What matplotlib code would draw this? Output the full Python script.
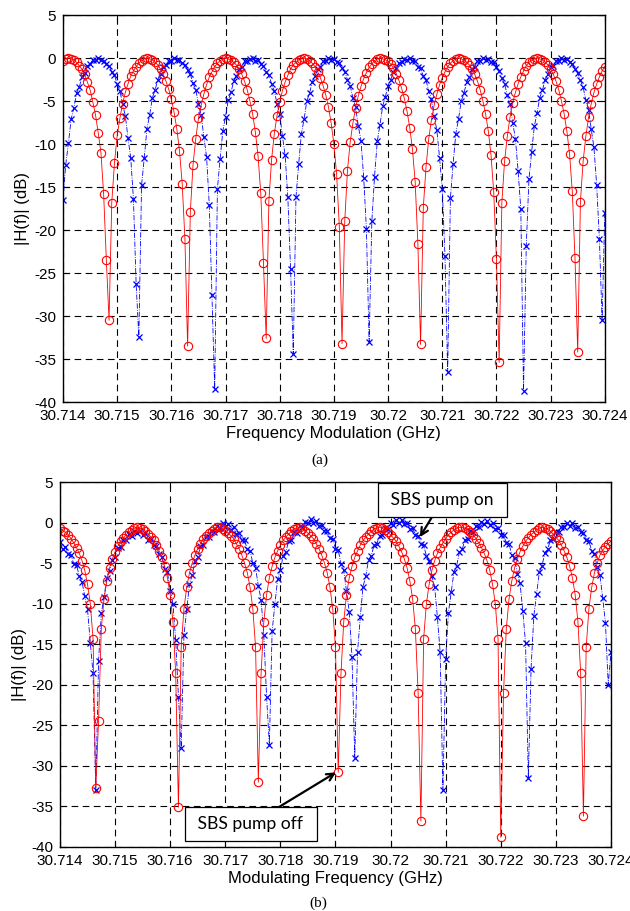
import numpy as np
import matplotlib
matplotlib.use('Agg')
import matplotlib.pyplot as plt

plt.rcParams['font.family'] = ['Liberation Sans', 'DejaVu Sans']
plt.rcParams['axes.unicode_minus'] = False

# sweep 30.714 .. 30.724 GHz, 201 points (50 kHz step)
f_start, f_stop, n_pts = 30.714, 30.724, 201

xticks = [30.714, 30.715, 30.716, 30.717, 30.718, 30.719, 30.720, 30.721, 30.722, 30.723, 30.724]
xtick_labels = ['30.714', '30.715', '30.716', '30.717', '30.718', '30.719', '30.72',
                '30.721', '30.722', '30.723', '30.724']
yticks = [5, 0, -5, -10, -15, -20, -25, -30, -35, -40]

# (a) |H(f)| in dB, red = circles, blue = crosses
red_a = [
    -0.3, -0.1, 0.0, -0.1, -0.2, -0.5, -0.9, -1.3, -1.9, -2.8,
    -3.7, -5.1, -6.6, -8.7, -11.0, -15.8, -23.5, -30.5, -16.8, -12.2,
    -9.0, -7.0, -5.3, -4.0, -3.0, -2.1, -1.5, -1.0, -0.6, -0.3,
    -0.1, 0.0, -0.1, -0.2, -0.5, -0.8, -1.3, -1.9, -2.7, -3.6,
    -4.8, -6.3, -8.2, -10.8, -14.6, -21.0, -33.5, -17.9, -12.4, -9.4,
    -7.0, -5.5, -4.2, -3.1, -2.2, -1.6, -1.0, -0.6, -0.3, -0.1,
    0.0, -0.1, -0.2, -0.5, -0.8, -1.3, -1.9, -2.7, -3.7, -5.0,
    -6.5, -8.6, -11.4, -15.7, -23.8, -32.6, -16.6, -11.8, -8.8, -6.7,
    -5.1, -3.8, -2.8, -2.0, -1.3, -0.8, -0.5, -0.2, -0.1, 0.0,
    -0.1, -0.3, -0.6, -1.0, -1.6, -2.3, -3.2, -4.3, -5.7, -7.6,
    -10.0, -13.5, -19.6, -33.2, -19.0, -13.1, -9.8, -7.6, -5.8, -4.4,
    -3.3, -2.4, -1.7, -1.1, -0.7, -0.3, -0.1, 0.0, -0.1, -0.2,
    -0.4, -0.7, -1.2, -1.8, -2.6, -3.5, -4.7, -6.2, -8.1, -10.6,
    -14.4, -21.6, -33.3, -17.4, -12.7, -9.4, -7.2, -5.5, -4.2, -3.1,
    -2.3, -1.6, -1.0, -0.6, -0.3, -0.1, 0.0, -0.1, -0.2, -0.5,
    -0.8, -1.3, -1.9, -2.7, -3.7, -5.0, -6.5, -8.5, -11.3, -15.6,
    -23.4, -35.4, -16.8, -12.0, -9.1, -6.9, -5.2, -4.0, -3.0, -2.2,
    -1.5, -0.9, -0.5, -0.3, -0.1, 0.0, -0.1, -0.2, -0.5, -0.8,
    -1.3, -1.9, -2.7, -3.7, -5.0, -6.5, -8.5, -11.2, -15.5, -23.3,
    -34.2, -16.7, -12.0, -9.1, -6.9, -5.3, -4.0, -3.0, -2.2, -1.5,
    -1.0]

blue_a = [
    -16.5, -12.4, -9.9, -7.1, -5.8, -4.1, -3.4, -2.2, -1.7, -0.9,
    -0.7, -0.2, -0.2, 0.0, -0.2, -0.3, -0.7, -0.9, -1.6, -2.0,
    -3.0, -3.8, -5.4, -6.7, -9.3, -11.6, -16.4, -26.3, -32.4, -14.8,
    -11.6, -8.2, -6.6, -4.6, -3.7, -2.5, -1.9, -1.1, -0.8, -0.3,
    -0.3, 0.0, -0.2, -0.2, -0.6, -0.8, -1.4, -1.9, -2.9, -3.7,
    -5.3, -6.6, -9.2, -11.5, -17.1, -27.6, -38.5, -15.2, -11.7, -8.5,
    -6.8, -4.9, -4.0, -2.7, -2.1, -1.3, -1.0, -0.4, -0.4, -0.1,
    0.0, -0.3, -0.2, -0.7, -0.9, -1.6, -2.0, -3.0, -3.8, -5.3,
    -6.5, -9.1, -11.3, -16.2, -24.5, -34.4, -16.2, -12.3, -8.8, -7.1,
    -5.0, -4.1, -2.8, -2.1, -1.3, -1.0, -0.4, -0.4, 0.0, -0.2,
    -0.1, -0.5, -0.6, -1.2, -1.6, -2.5, -3.2, -4.6, -5.7, -7.9,
    -9.6, -13.9, -19.9, -33.0, -19.0, -13.8, -9.7, -7.8, -5.6, -4.5,
    -3.2, -2.5, -1.6, -1.2, -0.6, -0.5, -0.1, -0.2, 0.0, -0.4,
    -0.4, -1.0, -1.2, -2.1, -2.6, -3.8, -4.8, -6.7, -8.4, -11.6,
    -15.2, -23.0, -36.5, -16.3, -12.3, -8.8, -7.1, -5.0, -4.1, -2.8,
    -2.2, -1.3, -1.0, -0.4, -0.4, 0.0, -0.2, -0.1, -0.5, -0.5,
    -1.1, -1.5, -2.3, -3.0, -4.3, -5.4, -7.5, -9.4, -13.1, -17.6,
    -38.7, -21.9, -14.1, -10.9, -7.9, -6.4, -4.6, -3.7, -2.5, -1.9,
    -1.1, -0.9, -0.3, -0.3, 0.0, -0.2, -0.1, -0.5, -0.7, -1.3,
    -1.7, -2.6, -3.4, -4.9, -6.0, -8.3, -10.4, -14.8, -21.0, -30.5,
    -18.0]

# (b) pump off (red) / pump on (blue)
red_b = [
    -0.7, -1.0, -1.2, -1.5, -2.0, -2.5, -3.1, -3.8, -4.7, -5.9,
    -7.6, -10.0, -14.3, -32.7, -24.5, -13.1, -9.4, -7.2, -5.6, -4.5,
    -3.6, -2.9, -2.3, -1.9, -1.5, -1.2, -0.9, -0.7, -0.6, -0.7,
    -0.8, -1.1, -1.4, -1.8, -2.2, -2.8, -3.5, -4.3, -5.4, -6.8,
    -8.9, -12.2, -18.6, -35.1, -15.4, -10.6, -8.0, -6.2, -5.0, -4.0,
    -3.2, -2.6, -2.0, -1.6, -1.3, -1.0, -0.8, -0.6, -0.6, -0.8,
    -1.0, -1.3, -1.6, -2.0, -2.6, -3.2, -4.0, -5.0, -6.2, -8.0,
    -10.6, -15.4, -32.0, -18.6, -12.2, -8.9, -6.8, -5.4, -4.3, -3.5,
    -2.8, -2.2, -1.8, -1.4, -1.1, -0.8, -0.7, -0.6, -0.8, -1.0,
    -1.3, -1.6, -2.0, -2.6, -3.2, -4.0, -5.0, -6.2, -8.0, -10.6,
    -15.4, -30.8, -18.6, -12.2, -8.9, -6.8, -5.4, -4.3, -3.5, -2.8,
    -2.2, -1.8, -1.4, -1.1, -0.8, -0.7, -0.6, -0.7, -0.9, -1.2,
    -1.5, -1.9, -2.3, -2.9, -3.6, -4.5, -5.6, -7.2, -9.4, -13.1,
    -21.0, -36.8, -14.3, -10.0, -7.6, -5.9, -4.7, -3.8, -3.1, -2.5,
    -2.0, -1.5, -1.2, -0.9, -0.7, -0.6, -0.6, -0.7, -0.9, -1.2,
    -1.5, -2.0, -2.5, -3.1, -3.8, -4.7, -5.9, -7.6, -10.0, -14.3,
    -38.8, -21.0, -13.1, -9.4, -7.2, -5.6, -4.5, -3.6, -2.9, -2.3,
    -1.9, -1.5, -1.2, -0.9, -0.7, -0.6, -0.7, -0.8, -1.1, -1.4,
    -1.8, -2.2, -2.8, -3.5, -4.3, -5.4, -6.8, -8.9, -12.2, -18.6,
    -36.2, -15.4, -10.6, -8.0, -6.2, -5.0, -4.0, -3.4, -3.0, -2.6,
    -2.3]

blue_b = [
    -2.4, -3.2, -3.0, -3.9, -4.0, -5.1, -5.2, -6.6, -7.3, -9.1,
    -10.7, -14.8, -18.6, -33.0, -17.1, -11.2, -9.2, -6.8, -6.0, -4.6,
    -4.2, -3.1, -3.0, -2.1, -2.2, -1.4, -1.6, -1.0, -1.3, -1.0,
    -1.5, -1.3, -2.1, -2.0, -2.8, -2.9, -3.9, -4.2, -5.7, -6.1,
    -8.4, -10.0, -14.5, -21.5, -27.8, -13.9, -10.7, -7.6, -6.5, -4.7,
    -4.3, -2.9, -2.8, -1.8, -1.8, -1.0, -1.2, -0.4, -0.7, -0.1,
    -0.5, -0.2, -0.9, -0.6, -1.4, -1.3, -2.2, -2.2, -3.3, -3.5,
    -5.0, -5.6, -7.8, -9.5, -13.9, -21.5, -27.4, -13.4, -10.1, -7.0,
    -5.9, -4.1, -3.6, -2.3, -2.2, -1.2, -1.3, -0.4, -0.6, 0.1,
    -0.1, 0.4, 0.0, 0.2, -0.4, -0.3, -1.0, -1.0, -1.9, -2.0,
    -3.2, -3.4, -5.1, -5.9, -8.4, -11.0, -16.6, -29.0, -16.0, -11.7,
    -7.9, -6.6, -4.6, -4.1, -2.8, -2.6, -1.6, -1.5, -0.7, -0.8,
    -0.1, -0.3, 0.3, 0.0, 0.3, -0.2, -0.1, -0.8, -0.7, -1.5,
    -1.6, -2.6, -2.8, -4.1, -4.7, -6.6, -7.9, -11.7, -16.0, -33.0,
    -16.8, -11.1, -8.6, -6.1, -5.3, -3.6, -3.3, -2.1, -2.0, -1.1,
    -1.2, -0.4, -0.6, 0.1, -0.2, 0.2, -0.3, -0.1, -0.8, -0.7,
    -1.5, -1.5, -2.5, -2.6, -4.0, -4.4, -6.3, -7.5, -10.9, -14.9,
    -31.5, -18.0, -11.5, -8.8, -6.1, -5.3, -3.7, -3.3, -2.2, -2.0,
    -1.2, -1.2, -0.5, -0.6, -0.1, -0.4, -0.1, -0.7, -0.6, -1.2,
    -1.3, -2.2, -2.3, -3.5, -3.9, -5.5, -6.5, -9.3, -12.4, -20.0,
    -16.0]

freq = np.linspace(f_start, f_stop, n_pts)


def draw_panel(ax, red, blue, xlabel):
    ax.plot(freq, blue, color='b', linestyle='-.', linewidth=0.6,
            marker='x', markersize=4.5, markeredgewidth=0.9)
    ax.plot(freq, red, color='r', linestyle='-', linewidth=0.6,
            marker='o', markersize=6, markerfacecolor='none', markeredgewidth=0.8)
    ax.set_xlim(f_start, f_stop)
    ax.set_ylim(-40, 5)
    ax.set_xticks(xticks)
    ax.set_xticklabels(xtick_labels)
    ax.set_yticks(yticks)
    ax.tick_params(direction='in', top=True, right=True, length=4, labelsize=11, pad=5)
    ax.grid(True, color='k', linestyle=(0, (6, 4)), linewidth=0.8)
    ax.set_axisbelow(True)
    for s in ax.spines.values():
        s.set_linewidth(1.0)
    ax.set_xlabel(xlabel, fontsize=12, labelpad=2)
    ax.set_ylabel('|H(f)| (dB)', fontsize=12, labelpad=3)


fig = plt.figure(figsize=(6.3, 9.11), dpi=100)
ax_a = fig.add_axes([0.100, 0.5587, 0.860, 0.4248])
ax_b = fig.add_axes([0.0952, 0.0703, 0.8746, 0.4006])

draw_panel(ax_a, red_a, blue_a, 'Frequency Modulation (GHz)')
draw_panel(ax_b, red_b, blue_b, 'Modulating Frequency (GHz)')

fig.text(0.508, 0.495, '(a)', ha='center', va='center', family='Liberation Serif', fontsize=11)
fig.text(0.505, 0.009, '(b)', ha='center', va='center', family='Liberation Serif', fontsize=11)

box = dict(boxstyle='square,pad=0.5', fc='white', ec='k', lw=0.9)
arrow = dict(arrowstyle='->', color='k', lw=1.6, mutation_scale=13, shrinkA=0, shrinkB=0)
ax_b.annotate(' SBS pump on ', xy=(30.72053, -1.8), xytext=(30.72094, 2.8),
              ha='center', va='center', family=['Lato', 'DejaVu Sans'], fontsize=12.6,
              bbox=box, arrowprops=arrow)
ax_b.annotate(' SBS pump off ', xy=(30.71901, -30.8), xytext=(30.71746, -37.2),
              ha='center', va='center', family=['Lato', 'DejaVu Sans'], fontsize=12.6,
              bbox=box, arrowprops=arrow)

plt.savefig('out.png', dpi=100)
